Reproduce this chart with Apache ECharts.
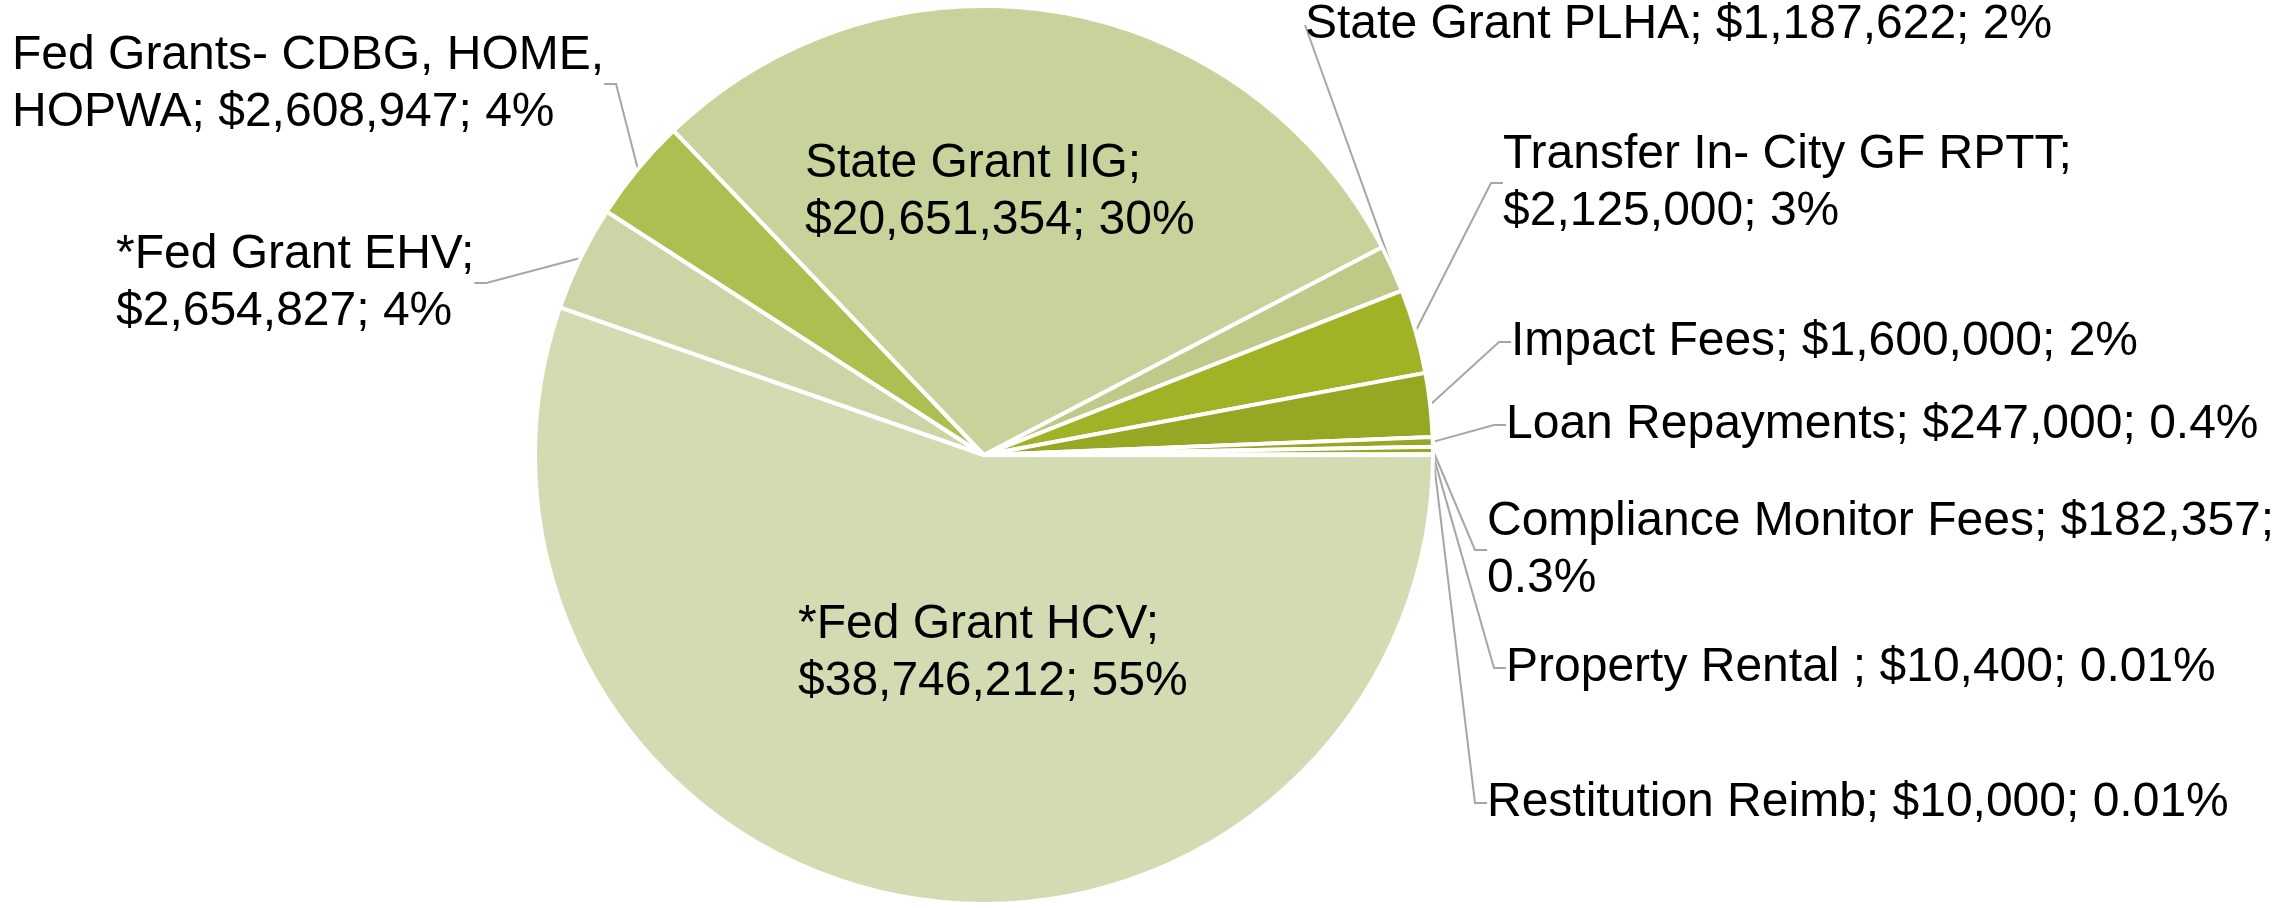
<!DOCTYPE html>
<html>
<head>
<meta charset="utf-8">
<style>
  html, body { margin: 0; padding: 0; background: #fff; }
  #main { width: 2282px; height: 908px; }
</style>
<script src="https://cdn.jsdelivr.net/npm/echarts@6/dist/echarts.min.js"></script>
</head>
<body>
<div id="main"></div>
<script>
// slice order runs clockwise from 3 o'clock
var names = [
  '*Fed Grant HCV', '*Fed Grant EHV', 'Fed Grants- CDBG, HOME, HOPWA', 'State Grant IIG',
  'State Grant PLHA', 'Transfer In- City GF RPTT', 'Impact Fees', 'Loan Repayments',
  'Compliance Monitor Fees', 'Property Rental ', 'Restitution Reimb'
];
var amounts = [38746212, 2654827, 2608947, 20651354, 1187622, 2125000, 1600000, 247000, 182357, 10400, 10000];
var pctText = ['55%', '4%', '4%', '30%', '2%', '3%', '2%', '0.4%', '0.3%', '0.01%', '0.01%'];
// label text as broken in the picture
var labelText = [
  '*Fed Grant HCV;\n$38,746,212; 55%',
  '*Fed Grant EHV;\n$2,654,827; 4%',
  'Fed Grants- CDBG, HOME,\nHOPWA; $2,608,947; 4%',
  'State Grant IIG;\n$20,651,354; 30%',
  'State Grant PLHA; $1,187,622; 2%',
  'Transfer In- City GF RPTT;\n$2,125,000; 3%',
  'Impact Fees; $1,600,000; 2%',
  'Loan Repayments; $247,000; 0.4%',
  'Compliance Monitor Fees; $182,357;\n0.3%',
  'Property Rental ; $10,400; 0.01%',
  'Restitution Reimb; $10,000; 0.01%'
];
var colors = ['#d3dbb3', '#cdd5a7', '#aebe51', '#c7d39a', '#bfca88', '#a2b226', '#97a623', '#97a623', '#97a623', '#97a623', '#97a623'];
var insideIdx = [0, 3];

// label anchor spots: left edge, vertical middle
var labelPos = [
  [798, 653], [116, 283], [12, 84], [805, 192], [1305, 25], [1503, 183],
  [1511, 342], [1506, 425], [1487, 550], [1506, 668], [1487, 803]
];

var chart = echarts.init(document.getElementById('main'));

var data = names.map(function (n, i) {
  var inside = insideIdx.indexOf(i) >= 0;
  return {
    name: n,
    value: amounts[i],
    itemStyle: { color: colors[i] },
    label: { position: inside ? 'inside' : 'outside' },
    labelLine: { show: !inside }
  };
});

chart.setOption({
  animation: false,
  backgroundColor: '#fff',
  series: [{
    type: 'pie',
    center: [984, 455],
    radius: 449,
    startAngle: 0,
    clockwise: true,
    avoidLabelOverlap: false,
    data: data,
    itemStyle: { borderColor: '#fff', borderWidth: 4 },
    emphasis: { disabled: true },
    label: {
      show: true,
      color: '#000',
      fontFamily: 'Liberation Sans, Arial, sans-serif',
      fontSize: 48,
      lineHeight: 57,
      align: 'left',
      formatter: function (p) { return labelText[p.dataIndex]; }
    },
    labelLine: {
      show: true,
      length: 20,
      length2: 12,
      lineStyle: { color: '#a6a6a6', width: 2 }
    },
    labelLayout: function (p) {
      var pos = labelPos[p.dataIndex];
      return { x: pos[0], y: pos[1], align: 'left', verticalAlign: 'middle' };
    }
  }]
});
</script>
</body>
</html>
